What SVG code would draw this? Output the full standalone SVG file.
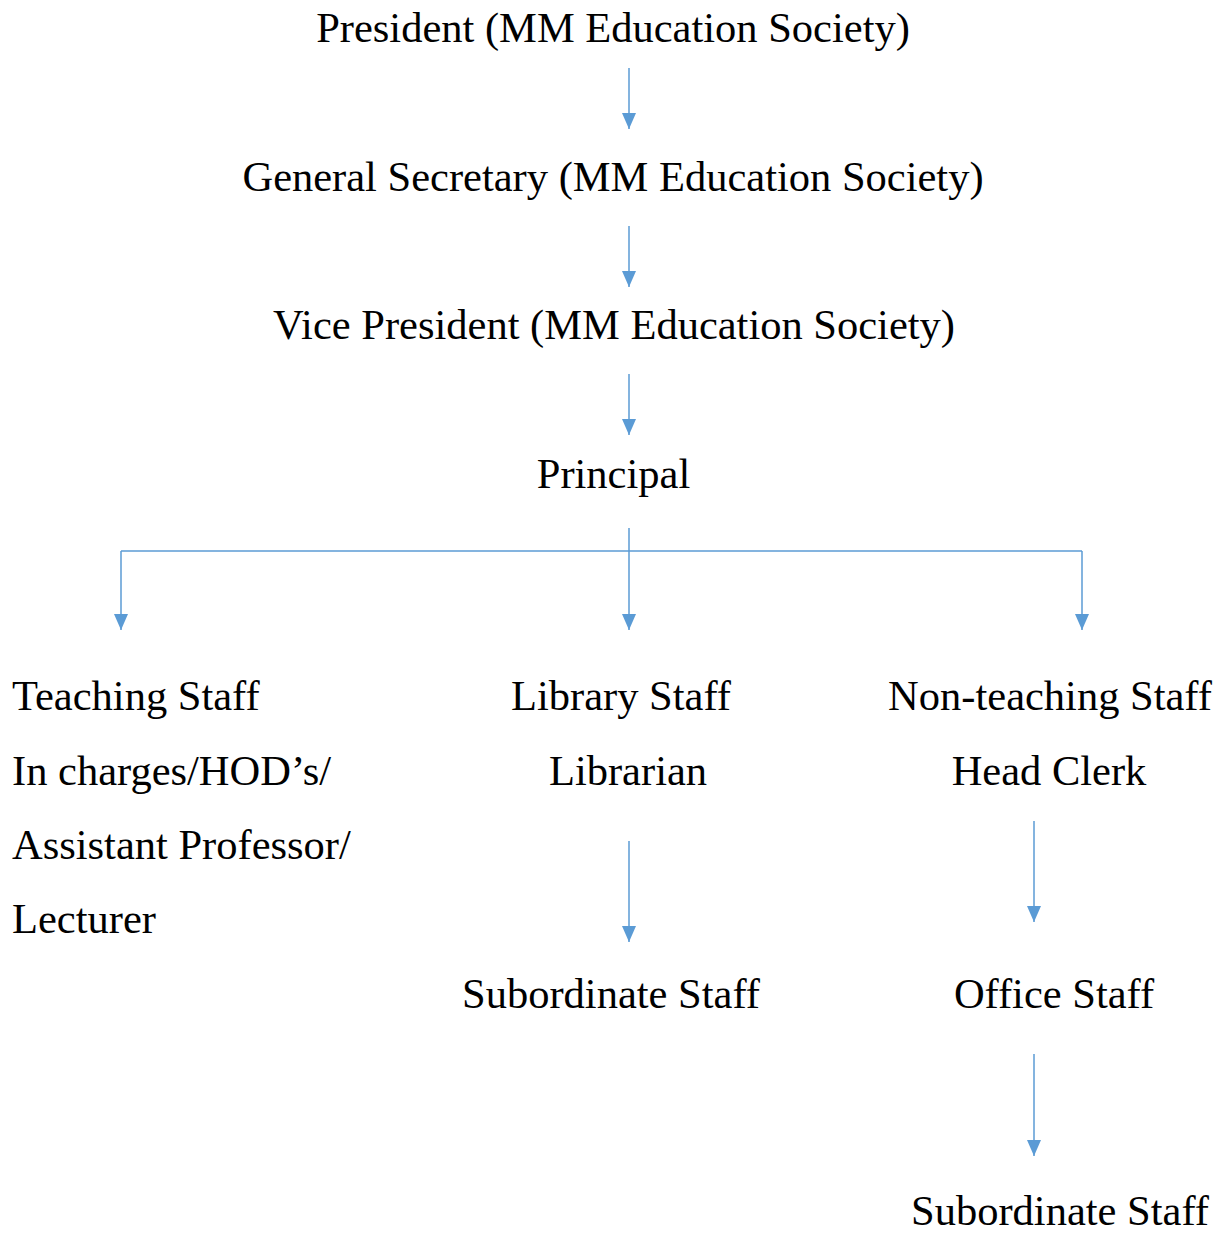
<svg xmlns="http://www.w3.org/2000/svg" width="1227" height="1234" viewBox="0 0 1227 1234">
  <style>
    text { font-family: "Liberation Serif", "Times New Roman", serif; font-size: 42.5px; fill: #000; }
    .c { text-anchor: middle; }
    .conn line { stroke: #5B9BD5; stroke-width: 1.5; fill: none; }
  </style>
  <defs>
    <!-- filled triangular head, drawn along +x so orient="auto" points it down the line -->
    <marker id="arrow" viewBox="0 0 16 14" refX="16" refY="7" markerWidth="16" markerHeight="14" markerUnits="userSpaceOnUse" orient="auto">
      <path d="M0,0 L16,7 L0,14 Z" fill="#5B9BD5"/>
    </marker>
  </defs>
  <rect width="1227" height="1234" fill="#fff"/>

  <g class="conn" id="connectors">
    <line x1="629" y1="68" x2="629" y2="129" marker-end="url(#arrow)"/>
    <line x1="629" y1="226" x2="629" y2="287" marker-end="url(#arrow)"/>
    <line x1="629" y1="374" x2="629" y2="435" marker-end="url(#arrow)"/>
    <line x1="629" y1="528" x2="629" y2="630" marker-end="url(#arrow)"/>
    <line x1="121" y1="551" x2="1082" y2="551"/>
    <line x1="121" y1="551" x2="121" y2="630" marker-end="url(#arrow)"/>
    <line x1="1082" y1="551" x2="1082" y2="630" marker-end="url(#arrow)"/>
    <line x1="629" y1="841" x2="629" y2="942" marker-end="url(#arrow)"/>
    <line x1="1034" y1="821" x2="1034" y2="922" marker-end="url(#arrow)"/>
    <line x1="1034" y1="1054" x2="1034" y2="1156" marker-end="url(#arrow)"/>
  </g>

  <g id="president"><text class="c" x="613" y="42">President (MM Education Society)</text></g>
  <g id="general-secretary"><text class="c" x="613" y="191">General Secretary (MM Education Society)</text></g>
  <g id="vice-president"><text class="c" x="614" y="339">Vice President (MM Education Society)</text></g>
  <g id="principal"><text class="c" x="613.5" y="488">Principal</text></g>

  <g id="teaching-staff">
    <text x="12" y="710">Teaching Staff</text>
    <text x="12" y="785">In charges/HOD’s/</text>
    <text x="12" y="859">Assistant Professor/</text>
    <text x="12" y="933">Lecturer</text>
  </g>

  <g id="library-staff">
    <text class="c" x="621" y="710">Library Staff</text>
    <text class="c" x="628" y="785">Librarian</text>
  </g>
  <g id="library-subordinate"><text class="c" x="611" y="1008">Subordinate Staff</text></g>

  <g id="non-teaching-staff">
    <text class="c" x="1050" y="710">Non-teaching Staff</text>
    <text class="c" x="1049" y="785">Head Clerk</text>
  </g>
  <g id="office-staff"><text class="c" x="1054" y="1008">Office Staff</text></g>
  <g id="office-subordinate"><text class="c" x="1060" y="1225">Subordinate Staff</text></g>
</svg>
